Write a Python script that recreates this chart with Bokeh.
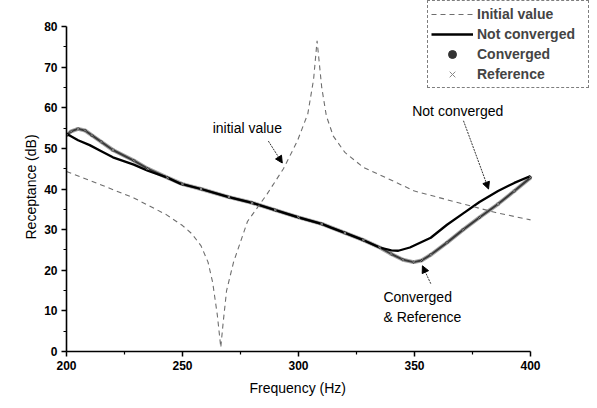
from bokeh.plotting import figure
from bokeh.models import (Legend, LegendItem, Label, Arrow, NormalHead,
                          FixedTicker, Range1d, Title)
from bokeh.embed import file_html
from bokeh.resources import INLINE

# ---------------- data ----------------
freq_init = [200, 215, 229, 243, 250, 254, 258, 261, 263, 265, 266.5, 267.5,
             269, 272, 278, 286.5, 293.5, 299.5, 304, 306.5, 308, 310, 312,
             315, 320, 328, 335, 350, 371, 385, 400]
initial_value = [44.3, 41, 37.8, 33.7, 31, 29, 26, 22, 17, 9, 1, 7,
                 15, 22, 32, 38.8, 45, 51.8, 58.5, 67, 76.5, 65, 58,
                 53, 49, 45.3, 43.5, 39.5, 36.3, 34.2, 32.4]

freq_nc = [200, 205, 210, 215, 220, 229, 235, 243.5, 249, 258, 270, 280, 290,
           300, 310, 314, 320, 328, 335, 340, 343, 348, 357, 364, 371, 378,
           386, 393, 400]
not_converged = [53.6, 52, 50.8, 49.3, 47.8, 46, 44.5, 42.8, 41.3, 40, 38,
                 36.6, 34.8, 33, 31.4, 30.5, 29.2, 27.4, 25.6, 24.9, 24.8,
                 25.6, 28, 31.2, 34, 36.8, 39.5, 41.5, 43.2]

freq_conv = [200, 202, 205, 208, 211, 215, 220, 229, 235, 243.5, 250, 258,
             270, 280, 290, 300, 310, 320, 328, 335, 340, 345, 349.6, 353,
             357, 364, 371, 378, 386, 393, 400]
converged = [53.2, 54.2, 54.8, 54.4, 53.2, 51.6, 49.6, 47, 45, 42.8, 41.2,
             40, 38, 36.6, 34.8, 33, 31.4, 29.2, 27.4, 25.6, 24, 22.6, 22,
             22.4, 23.8, 26.8, 30, 33, 36.3, 39.5, 42.8]
reference = [53.2, 54.2, 54.8, 54.4, 53.2, 51.6, 49.6, 47, 45, 42.8, 41.2,
             40, 38, 36.6, 34.8, 33, 31.4, 29.2, 27.4, 25.6, 24, 22.6, 22,
             22.4, 23.8, 26.8, 30, 33, 36.3, 39.5, 42.8]

x_ticks = [200, 250, 300, 350, 400]
y_ticks = [0, 10, 20, 30, 40, 50, 60, 70, 80]

FONT = "Liberation Sans"

# frame extended right/up so the legend box (outside the axes) is not clipped;
# the axes themselves are bounded to 200-400 Hz and 0-80 dB
p = figure(width=597, height=408, output_backend="svg", toolbar_location=None,
           x_range=Range1d(200, 428.0), y_range=Range1d(0, 86.4),
           min_border_left=66, min_border_right=2, min_border_top=0,
           min_border_bottom=57, background_fill_color="white",
           border_fill_color="white")
p.outline_line_color = None
p.grid.visible = False

# curves
r_ref = p.line(freq_conv, reference, line_color="#a8a8a8", line_width=4.0)
r_conv = p.line(freq_conv, converged, line_color="#3a3a3a", line_width=2)
r_nc = p.line(freq_nc, not_converged, line_color="black", line_width=2.3)
r_init = p.line(freq_init, initial_value, line_color="#6e6e6e", line_width=1.1,
                line_dash="5 4")
s_conv = p.scatter(freq_conv, converged, marker="circle", size=2,
                   fill_color="#333333", line_color="#333333")
s_ref = p.scatter(freq_conv, reference, marker="x", size=3.5,
                  line_color="#888888", line_width=1)

# axes
for ax in (p.xaxis[0], p.yaxis[0]):
    ax.axis_line_width = 1.6
    ax.axis_line_color = "black"
    ax.major_tick_in = 0
    ax.major_tick_out = 5
    ax.minor_tick_in = 0
    ax.minor_tick_out = 3
    ax.major_tick_line_width = 1.5
    ax.minor_tick_line_width = 1.2
    ax.major_label_text_font = FONT
    ax.major_label_text_font_style = "bold"
    ax.major_label_text_font_size = "12px"
    ax.major_label_text_color = "black"
    ax.major_label_standoff = 4

p.xaxis.bounds = (200, 400)
p.yaxis.bounds = (0, 80)
p.xaxis.ticker = FixedTicker(ticks=x_ticks, minor_ticks=[225, 275, 325, 375])
p.yaxis.ticker = FixedTicker(ticks=y_ticks,
                             minor_ticks=[5, 15, 25, 35, 45, 55, 65, 75])

# axis titles, placed so they are centred on the bounded axes
p.add_layout(Title(text="Frequency (Hz)", align="left", offset=183,
                   text_font=FONT, text_font_size="14px", text_color="black",
                   text_font_style="normal", standoff=10), "below")
p.add_layout(Title(text="Receptance (dB)", align="left", offset=112,
                   text_font=FONT, text_font_size="14px", text_color="black",
                   text_font_style="normal", standoff=6), "left")

# legend
legend = Legend(items=[
    LegendItem(label="Initial value", renderers=[r_init]),
    LegendItem(label="Not converged", renderers=[r_nc]),
    LegendItem(label="Converged", renderers=[s_conv]),
    LegendItem(label="Reference", renderers=[s_ref]),
], location=(361, 263))
legend.label_text_font = FONT
legend.label_text_font_size = "14px"
legend.label_text_font_style = "bold"
legend.label_height = 20
legend.glyph_height = 20
legend.glyph_width = 42
legend.spacing = 0
legend.padding = 3
legend.margin = 0
legend.label_standoff = 4
legend.label_width = 108
legend.border_line_color = "black"
legend.border_line_dash = "1 1"
legend.border_line_width = 1
legend.background_fill_alpha = 1
p.add_layout(legend)

# annotations
def add_text(x, y, t):
    p.add_layout(Label(x=x, y=y, text=t, text_font=FONT,
                       text_font_size="14px", text_baseline="middle",
                       text_align="left", text_color="black"))

add_text(263, 55, "initial value")
add_text(349, 59.2, "Not converged")
add_text(336.6, 13.3, "Converged")
add_text(336.6, 8.4, "& Reference")

def add_arrow(x0, y0, x1, y1):
    p.add_layout(Arrow(end=NormalHead(size=7, fill_color="black",
                                      line_color="black"),
                       x_start=x0, y_start=y0, x_end=x1, y_end=y1,
                       line_color="#333333", line_width=1, line_dash="2 1"))

add_arrow(287, 51.8, 293, 46.4)
add_arrow(371.1, 56.8, 381.9, 40)
add_arrow(357, 16.7, 353.4, 21.1)

open("out.html", "w").write(file_html(p, INLINE))
